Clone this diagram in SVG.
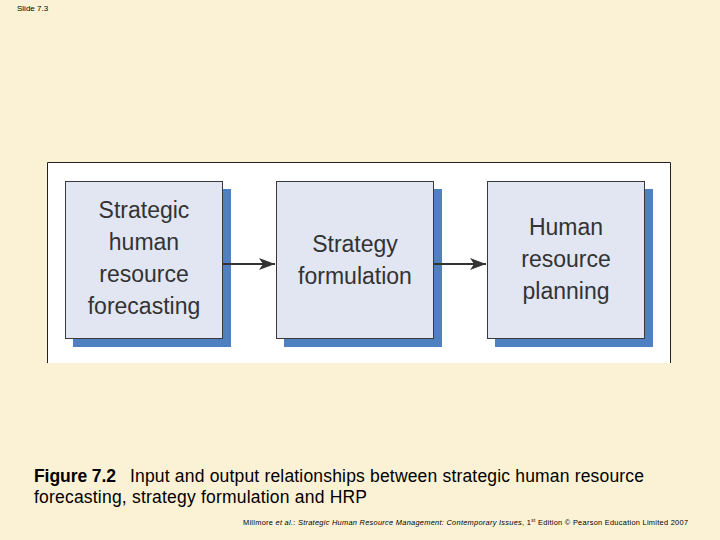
<svg xmlns="http://www.w3.org/2000/svg" width="720" height="540" viewBox="0 0 720 540">
  <defs>
    <style>
      .bg { fill: #FBF1D5; }
      .shadow { fill: #4F80C1; }
      .box { fill: #E1E6F2; stroke: #3A3A3A; stroke-width: 1; }
      .label { font-family: "Liberation Sans", Arial, Helvetica, sans-serif; font-size: 23px; fill: #333333; text-anchor: middle; }
      .conn { stroke: #333333; stroke-width: 2; fill: none; }
      .cap { font-family: "Liberation Sans", Arial, Helvetica, sans-serif; font-size: 17.5px; fill: #000000; }
      .foot { font-family: "Liberation Sans", Arial, Helvetica, sans-serif; font-size: 7.4px; fill: #000000; }
    </style>
    <marker id="arrow" viewBox="0 0 16 12" refX="16" refY="6" markerWidth="16" markerHeight="12" markerUnits="userSpaceOnUse" orient="auto">
      <path d="M0,0 L16,6 L0,12 L4,6 Z" fill="#333333"/>
    </marker>
  </defs>

  <rect class="bg" x="0" y="0" width="720" height="540"/>

  <text x="17" y="11" font-family="'Liberation Sans', Arial, sans-serif" font-size="8" fill="#000">Slide 7.3</text>

  <rect x="47" y="162" width="624" height="201" fill="#FFFFFF"/>
  <path d="M47.5,363 V162.5 H670.5 V363" fill="none" stroke="#222222" stroke-width="1"/>

  <g id="node-forecasting">
    <rect class="shadow" x="73" y="189" width="158" height="158"/>
    <rect class="box" x="65.5" y="181.5" width="157" height="157"/>
    <text class="label" x="144" y="218">Strategic</text>
    <text class="label" x="144" y="250">human</text>
    <text class="label" x="144" y="282">resource</text>
    <text class="label" x="144" y="314">forecasting</text>
  </g>

  <g id="node-formulation">
    <rect class="shadow" x="284" y="189" width="158" height="158"/>
    <rect class="box" x="276.5" y="181.5" width="157" height="157"/>
    <text class="label" x="355" y="252">Strategy</text>
    <text class="label" x="355" y="284">formulation</text>
  </g>

  <g id="node-hrp">
    <rect class="shadow" x="495" y="189" width="158" height="158"/>
    <rect class="box" x="487.5" y="181.5" width="157" height="157"/>
    <text class="label" x="566" y="235">Human</text>
    <text class="label" x="566" y="267">resource</text>
    <text class="label" x="566" y="299">planning</text>
  </g>

  <g id="connectors">
    <line class="conn" x1="223" y1="264" x2="275" y2="264" marker-end="url(#arrow)"/>
    <line class="conn" x1="434" y1="264" x2="486" y2="264" marker-end="url(#arrow)"/>
  </g>

  <text class="cap" x="34" y="482" font-weight="bold" textLength="82" lengthAdjust="spacing">Figure 7.2</text>
  <text class="cap" x="130" y="482" textLength="514" lengthAdjust="spacing">Input and output relationships between strategic human resource</text>
  <text class="cap" x="34" y="503" textLength="333" lengthAdjust="spacing">forecasting, strategy formulation and HRP</text>

  <text class="foot" x="243" y="525" textLength="445" lengthAdjust="spacing">Millmore <tspan font-style="italic">et al.</tspan>: <tspan font-style="italic">Strategic Human Resource Management: Contemporary Issues</tspan>, 1<tspan font-size="5" dy="-3">st</tspan><tspan dy="3"> Edition © Pearson Education Limited 2007</tspan></text>
</svg>
